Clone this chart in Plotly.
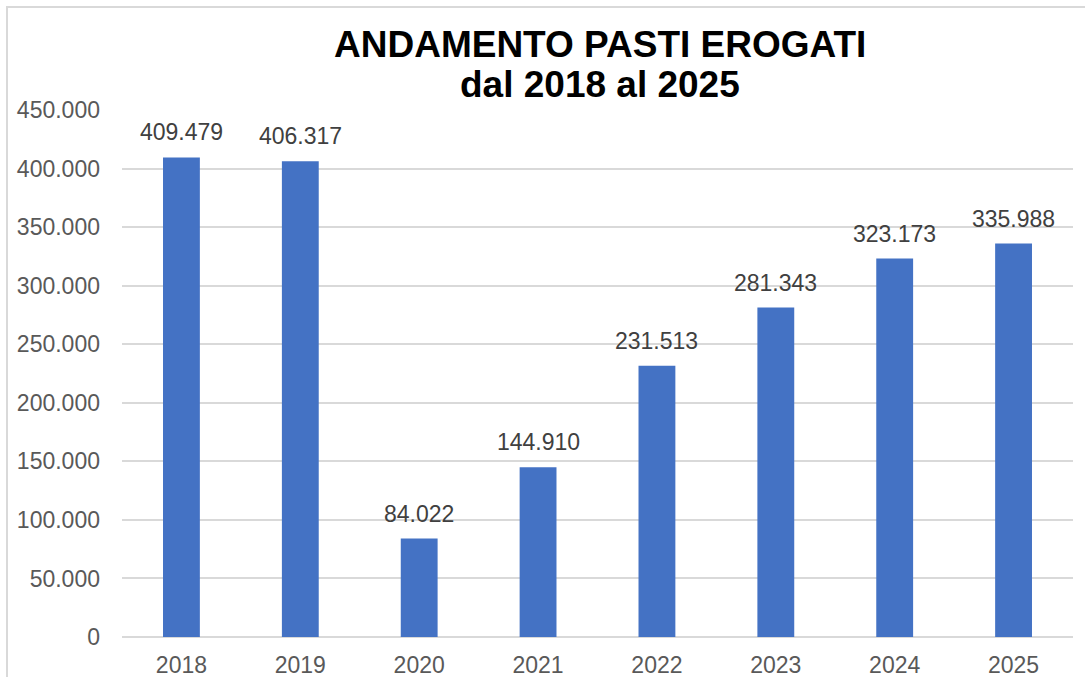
import plotly.graph_objects as go

years = ["2018", "2019", "2020", "2021", "2022", "2023", "2024", "2025"]
meals = [409479, 406317, 84022, 144910, 231513, 281343, 323173, 335988]
tick_vals = [0, 50000, 100000, 150000, 200000, 250000, 300000, 350000, 400000, 450000]
title_line1 = "ANDAMENTO PASTI EROGATI"
title_line2 = "dal 2018 al 2025"

def it_fmt(v):
    return f"{v:,}".replace(",", ".")

W, H = 1085, 677
L, R, T, B = 122, 12, 110, 40
pw, ph = W - L - R, H - T - B
FONT = "Liberation Sans, Arial, sans-serif"

def py(pix):
    # pixel row from top -> paper y
    return (H - B - pix) / ph

def px(pix):
    return (pix - L) / pw

fig = go.Figure()
fig.add_trace(go.Bar(
    x=list(range(len(years))), y=meals,
    marker=dict(color="#4472C4", line=dict(width=0)),
    hovertext=years, hoverinfo="text+y",
))

for i, v in enumerate(meals):
    fig.add_annotation(
        x=i, y=v, xref="x", yref="y", text=it_fmt(v),
        showarrow=False, yanchor="bottom", yshift=10,
        font=dict(family=FONT, size=23, color="#404040"),
    )

fig.add_annotation(
    x=px(600), y=py(44), xref="paper", yref="paper", xanchor="center", yanchor="middle",
    text="<b>" + title_line1 + "</b>", showarrow=False,
    font=dict(family=FONT, size=37, color="#000000"),
)
fig.add_annotation(
    x=px(600), y=py(84), xref="paper", yref="paper", xanchor="center", yanchor="middle",
    text="<b>" + title_line2 + "</b>", showarrow=False,
    font=dict(family=FONT, size=37, color="#000000"),
)

# chart frame
fig.add_shape(
    type="rect", xref="paper", yref="paper",
    x0=px(7), x1=px(W + 20), y0=py(H + 20), y1=py(7),
    line=dict(color="#D9D9D9", width=2), fillcolor="rgba(0,0,0,0)", layer="below",
)

fig.update_layout(
    width=W, height=H,
    margin=dict(l=L, r=R, t=T, b=B, pad=0, autoexpand=False),
    paper_bgcolor="white", plot_bgcolor="white",
    separators=",.",
    bargap=0.69,
    showlegend=False,
    font=dict(family=FONT, size=23, color="#595959"),
    xaxis=dict(
        range=[-0.5, len(years) - 0.5], tickvals=list(range(len(years))), ticktext=years,
        showgrid=False, zeroline=False, showline=False, automargin=False,
        ticks="", ticklabelstandoff=12,
        tickfont=dict(size=23, color="#595959"),
    ),
    yaxis=dict(
        range=[0, 450000], tickvals=tick_vals, ticktext=[it_fmt(v) for v in tick_vals],
        showgrid=True, gridcolor="#D9D9D9", gridwidth=2, automargin=False,
        zeroline=True, zerolinecolor="#D9D9D9", zerolinewidth=2,
        showline=False, ticks="", ticklabelstandoff=21,
        tickfont=dict(size=23, color="#595959"),
    ),
)

fig.write_html(
    "out.html",
    config={"displayModeBar": False},
    post_script="document.body.style.margin='0px';",
)
